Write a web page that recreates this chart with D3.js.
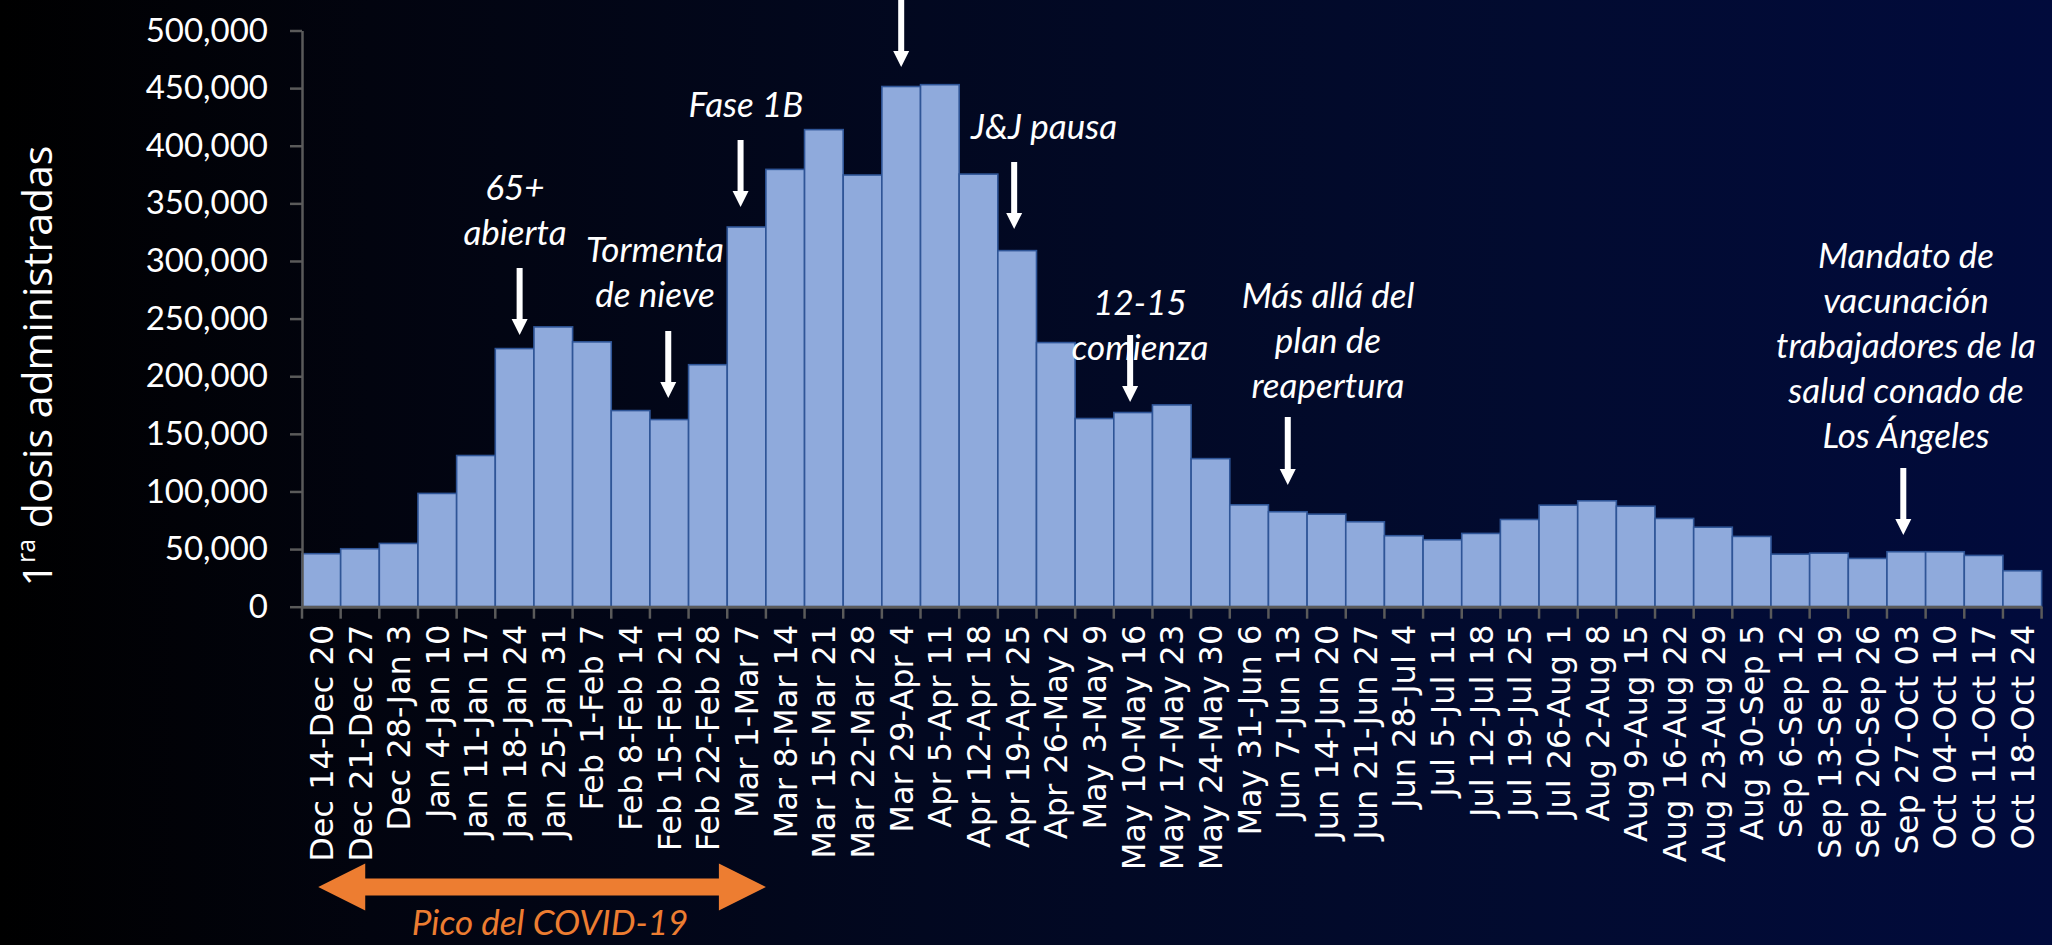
<!DOCTYPE html>
<html>
<head>
<meta charset="utf-8">
<script src="https://cdn.jsdelivr.net/npm/d3@7"></script>
<style>
  html, body { margin: 0; padding: 0; background: #000; }
  svg { display: block; }
</style>
</head>
<body>
<svg id="chart" width="2052" height="945"></svg>
<script>
// ---------- DATA ----------
const categories = [
  "Dec 14-Dec 20","Dec 21-Dec 27","Dec 28-Jan 3","Jan 4-Jan 10","Jan 11-Jan 17",
  "Jan 18-Jan 24","Jan 25-Jan 31","Feb 1-Feb 7","Feb 8-Feb 14","Feb 15-Feb 21",
  "Feb 22-Feb 28","Mar 1-Mar 7","Mar 8-Mar 14","Mar 15-Mar 21","Mar 22-Mar 28",
  "Mar 29-Apr 4","Apr 5-Apr 11","Apr 12-Apr 18","Apr 19-Apr 25","Apr 26-May 2",
  "May 3-May 9","May 10-May 16","May 17-May 23","May 24-May 30","May 31-Jun 6",
  "Jun 7-Jun 13","Jun 14-Jun 20","Jun 21-Jun 27","Jun 28-Jul 4","Jul 5-Jul 11",
  "Jul 12-Jul 18","Jul 19-Jul 25","Jul 26-Aug 1","Aug 2-Aug 8","Aug 9-Aug 15",
  "Aug 16-Aug 22","Aug 23-Aug 29","Aug 30-Sep 5","Sep 6-Sep 12","Sep 13-Sep 19",
  "Sep 20-Sep 26","Sep 27-Oct 03","Oct 04-Oct 10","Oct 11-Oct 17","Oct 18-Oct 24"
];
const firstDoses = [
  46000, 50300, 54900, 98300, 131200,
  224000, 242800, 229800, 170200, 162400,
  210000, 329500, 379500, 414000, 374600,
  451400, 453000, 375400, 309000, 229200,
  163300, 168500, 175100, 128500, 88400,
  82400, 80300, 73700, 61600, 58100,
  63600, 75700, 88100, 91900, 87200,
  76600, 69000, 61000, 45600, 46500,
  41900, 47700, 47700, 44500, 31200
];
const yTicks = [0, 50000, 100000, 150000, 200000, 250000, 300000, 350000, 400000, 450000, 500000];

// Annotation texts and the week they point to
const annotationCategories = ["Jan 18-Jan 24","Feb 15-Feb 21","Mar 1-Mar 7","Mar 29-Apr 4","Apr 19-Apr 25","May 10-May 16","Jun 7-Jun 13","Sep 27-Oct 03"];
const annotationTexts = [
  ["65+","abierta"],
  ["Tormenta","de nieve"],
  ["Fase 1B"],
  [],
  ["J&J pausa"],
  ["12-15","comienza"],
  ["Más allá del","plan de","reapertura"],
  ["Mandato de","vacunación","trabajadores de la","salud conado de","Los Ángeles"]
];
const yTitle = ["1", "ra", " dosis administradas"];
const peakLabel = "Pico del COVID-19";
const peakStart = "Dec 14-Dec 20", peakEnd = "Mar 1-Mar 7";

// ---------- LAYOUT ----------
const W = 2052, H = 945;
const plot = { left: 302, right: 2041.6, top: 30.5, bottom: 606.7 };
// per-annotation layout: text centre x, first baseline, arrow start/end y, arrow x offset
const annLayout = [
  { tx: 515, ty: 200, a0: 268, a1: 335, dx: 5 },
  { tx: 655, ty: 262, a0: 331, a1: 398, dx: -1 },
  { tx: 746, ty: 117, a0: 140, a1: 207, dx: -6 },
  { tx: 901, ty: -40, a0: -2, a1: 67, dx: 0 },
  { tx: 1044, ty: 139, a0: 162, a1: 229, dx: -3 },
  { tx: 1140, ty: 315, a0: 335, a1: 402, dx: -3 },
  { tx: 1328, ty: 308, a0: 417, a1: 485, dx: 0 },
  { tx: 1906, ty: 268, a0: 468, a1: 535, dx: -3 }
];
const lineGap = 45;

const svg = d3.select("#chart");

// background gradient
const defs = svg.append("defs");
const grad = defs.append("linearGradient").attr("id", "bg")
  .attr("x1", "0%").attr("y1", "0%").attr("x2", "100%").attr("y2", "0%");
grad.append("stop").attr("offset", "0%").attr("stop-color", "#000000");
grad.append("stop").attr("offset", "18%").attr("stop-color", "#02040f");
grad.append("stop").attr("offset", "45%").attr("stop-color", "#020820");
grad.append("stop").attr("offset", "75%").attr("stop-color", "#020b30");
grad.append("stop").attr("offset", "100%").attr("stop-color", "#010b3c");
svg.append("rect").attr("width", W).attr("height", H).attr("fill", "url(#bg)");

// scales
const x = d3.scaleBand().domain(categories).range([plot.left, plot.right]).padding(0);
const y = d3.scaleLinear().domain([0, 500000]).range([plot.bottom, plot.top]);
const bw = x.bandwidth();

// bars
svg.append("g").selectAll("rect").data(categories).join("rect")
  .attr("x", d => x(d))
  .attr("y", (d, i) => y(firstDoses[i]))
  .attr("width", bw)
  .attr("height", (d, i) => y(0) - y(firstDoses[i]))
  .attr("fill", "#8faadc")
  .attr("stroke", "#2f5597")
  .attr("stroke-width", 1.6);

// y axis
const axisColor = "#5a5a5a";
const yAxis = svg.append("g").attr("transform", `translate(${plot.left},0)`)
  .call(d3.axisLeft(y).tickValues(yTicks).tickFormat(d3.format(",")).tickSize(12).tickSizeOuter(0).tickPadding(22));
yAxis.select(".domain").attr("stroke", axisColor).attr("stroke-width", 2.5);
yAxis.selectAll(".tick line").attr("stroke", axisColor).attr("stroke-width", 2.5);
yAxis.selectAll(".tick text")
  .attr("fill", "#ffffff")
  .style("font-family", "Lato, 'Open Sans', sans-serif")
  .style("font-size", "33px");

// x axis (labels)
const xAxis = svg.append("g").attr("transform", `translate(0,${plot.bottom})`)
  .call(d3.axisBottom(x).tickSize(0).tickSizeOuter(0));
xAxis.select(".domain").attr("stroke", axisColor).attr("stroke-width", 3);
xAxis.selectAll(".tick text")
  .attr("fill", "#ffffff")
  .attr("x", -18).attr("y", 0).attr("dy", "0.36em")
  .attr("transform", "rotate(-90)")
  .style("text-anchor", "end")
  .style("font-family", "'DejaVu Sans', Verdana, sans-serif")
  .style("font-size", "32px");
// boundary ticks on x axis
const bounds = categories.map(c => x(c)).concat([x(categories[categories.length - 1]) + bw]);
xAxis.append("g").selectAll("line").data(bounds).join("line")
  .attr("x1", d => d).attr("x2", d => d)
  .attr("y1", 0).attr("y2", 12)
  .attr("stroke", axisColor).attr("stroke-width", 2.5);

// y title
const yt = svg.append("text")
  .attr("transform", "translate(52,366) rotate(-90)")
  .attr("text-anchor", "middle")
  .attr("fill", "#ffffff")
  .style("font-family", "'Open Sans', sans-serif")
  .style("font-size", "41px");
yt.append("tspan").text(yTitle[0]);
yt.append("tspan").attr("baseline-shift", "super").style("font-size", "25px").text(yTitle[1]);
yt.append("tspan").text(yTitle[2]);

// annotations
const annG = svg.append("g");
function drawArrow(g, cx, y0, y1) {
  const hw = 8, hh = 16;
  g.append("rect").attr("x", cx - 3).attr("y", y0).attr("width", 6).attr("height", (y1 - hh + 1) - y0).attr("fill", "#ffffff");
  g.append("path").attr("d", `M${cx - hw},${y1 - hh} L${cx + hw},${y1 - hh} L${cx},${y1} Z`).attr("fill", "#ffffff");
}
annotationCategories.forEach((cat, i) => {
  const L = annLayout[i];
  const lines = annotationTexts[i];
  lines.forEach((t, j) => {
    annG.append("text")
      .attr("x", L.tx).attr("y", L.ty + j * lineGap)
      .attr("text-anchor", "middle")
      .attr("fill", "#ffffff")
      .style("font-family", "Lato, sans-serif")
      .style("font-style", "italic")
      .style("font-size", "35px")
      .text(t);
  });
  drawArrow(annG, x(cat) + bw / 2 + L.dx, L.a0, L.a1);
});

// peak double arrow
const orange = "#ed7d31";
const px0 = x(peakStart) + bw * 0.42, px1 = x(peakEnd) + bw;
const pcy = 887, sh = 8.5, hh2 = 23.5, hl = 47;
svg.append("path")
  .attr("d", `M${px0},${pcy} L${px0 + hl},${pcy - hh2} L${px0 + hl},${pcy - sh} L${px1 - hl},${pcy - sh} L${px1 - hl},${pcy - hh2} L${px1},${pcy} L${px1 - hl},${pcy + hh2} L${px1 - hl},${pcy + sh} L${px0 + hl},${pcy + sh} L${px0 + hl},${pcy + hh2} Z`)
  .attr("fill", orange);
svg.append("text")
  .attr("x", (px0 + px1) / 2 + 8).attr("y", 935)
  .attr("text-anchor", "middle")
  .attr("fill", orange)
  .style("font-family", "Lato, sans-serif")
  .style("font-style", "italic")
  .style("font-size", "35px")
  .text(peakLabel);
</script>
</body>
</html>
